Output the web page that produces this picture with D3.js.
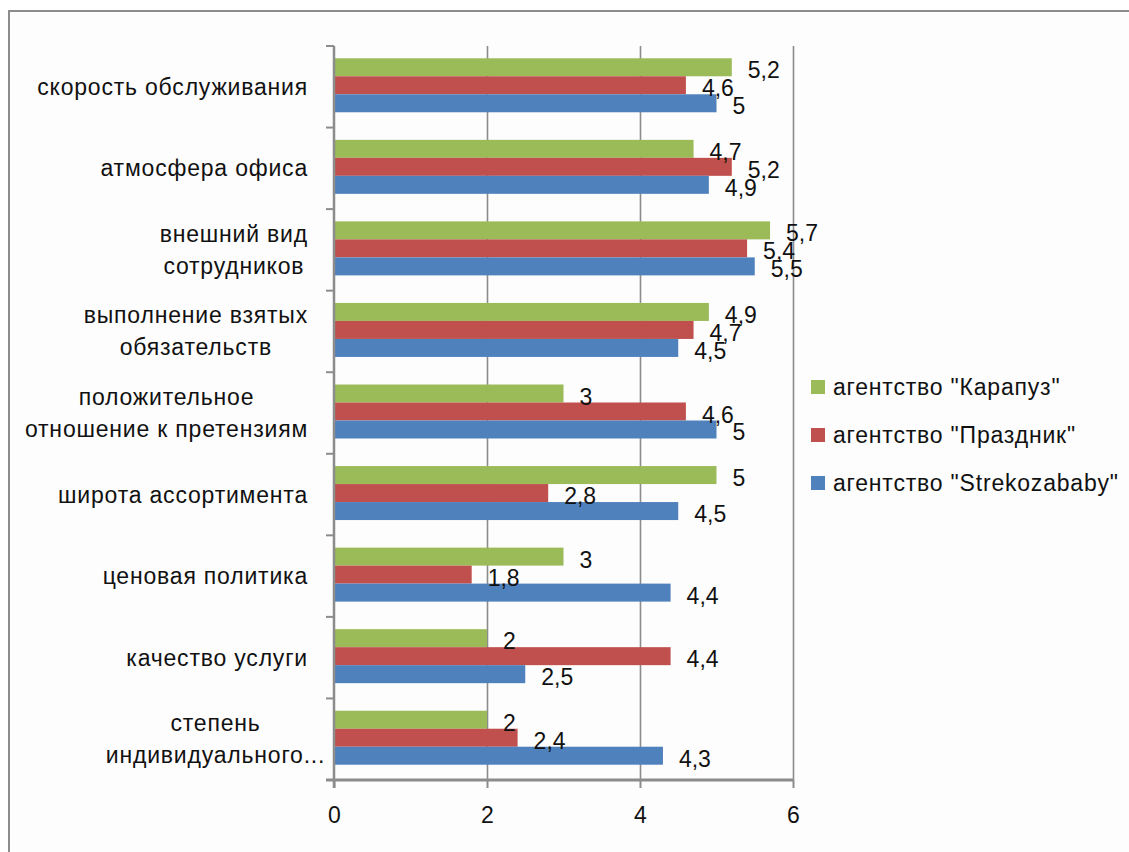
<!DOCTYPE html>
<html>
<head>
<meta charset="utf-8">
<script src="https://cdn.jsdelivr.net/npm/d3@7"></script>
<style>
    body { margin: 0; background: #fff; }
    svg text { font-family: "Liberation Sans", Arial, sans-serif; fill: #111; }
</style>
</head>
<body>
<svg id="chart" width="1129" height="852"></svg>
<script>
// categories, top to bottom (each may wrap into several lines)
var categories = [
    ["скорость обслуживания"],
    ["атмосфера офиса"],
    ["внешний вид", "сотрудников"],
    ["выполнение взятых", "обязательств"],
    ["положительное", "отношение к претензиям"],
    ["широта ассортимента"],
    ["ценовая политика"],
    ["качество услуги"],
    ["степень", "индивидуального..."]
];
var seriesNames = ['агентство "Карапуз"', 'агентство "Праздник"', 'агентство "Strekozababy"'];
var karapuz = [5.2, 4.7, 5.7, 4.9, 3, 5, 3, 2, 2];
var prazdnik = [4.6, 5.2, 5.4, 4.7, 4.6, 2.8, 1.8, 4.4, 2.4];
var strekoza = [5, 4.9, 5.5, 4.5, 5, 4.5, 4.4, 2.5, 4.3];
var xTicks = [0, 2, 4, 6];
var colors = ["#9bbb59", "#c0504d", "#4f81bd"];

var series = [karapuz, prazdnik, strekoza];

var svg = d3.select("#chart");
var plotLeft = 334, plotRight = 793, plotTop = 46, plotBottom = 780;
var fontSize = 23;

// outer frame
svg.append("rect")
    .attr("x", 9).attr("y", 11)
    .attr("width", 1140).attr("height", 860)
    .attr("fill", "#fdfdfd")
    .attr("stroke", "#8c8c8c").attr("stroke-width", 2);

var x = d3.scaleLinear().domain([0, 6]).range([plotLeft, plotRight]);
var y = d3.scaleBand().domain(d3.range(categories.length)).range([plotTop, plotBottom]);
var groupH = y.bandwidth() * 0.662;
var ySub = d3.scaleBand().domain(d3.range(series.length))
    .range([(y.bandwidth() - groupH) / 2 - 1.5, (y.bandwidth() + groupH) / 2 - 1.5]);

// gridlines
svg.append("g")
    .attr("transform", "translate(0," + plotBottom + ")")
    .call(d3.axisBottom(x).tickValues(xTicks.slice(1)).tickSize(-(plotBottom - plotTop)).tickFormat(""))
    .call(function (g) { g.select(".domain").remove(); })
    .selectAll("line").attr("stroke", "#8c8c8c").attr("stroke-width", 1.6);

// bars
var rows = [];
categories.forEach(function (c, i) {
    series.forEach(function (s, j) {
        rows.push({ cat: i, ser: j, value: s[i] });
    });
});

svg.append("g").selectAll("rect")
    .data(rows)
    .join("rect")
    .attr("x", x(0))
    .attr("y", function (d) { return y(d.cat) + ySub(d.ser); })
    .attr("width", function (d) { return x(d.value) - x(0); })
    .attr("height", ySub.bandwidth())
    .attr("fill", function (d) { return colors[d.ser]; });

// value labels
svg.append("g").selectAll("text")
    .data(rows)
    .join("text")
    .attr("x", function (d) { return x(d.value) + 16; })
    .attr("y", function (d) { return y(d.cat) + ySub(d.ser) + ySub.bandwidth() / 2 + 3; })
    .attr("dominant-baseline", "central")
    .attr("font-size", fontSize)
    .text(function (d) { return String(d.value).replace(".", ","); });

// bottom axis
var xAxis = svg.append("g")
    .attr("transform", "translate(0," + plotBottom + ")")
    .call(d3.axisBottom(x).tickValues(xTicks).tickFormat(d3.format("d"))
        .tickSize(8).tickPadding(19).tickSizeOuter(0));
xAxis.select(".domain").attr("d", "M" + (plotLeft - 8) + ",0H" + plotRight)
    .attr("stroke", "#8c8c8c").attr("stroke-width", 3);
xAxis.selectAll(".tick line").attr("stroke", "#8c8c8c").attr("stroke-width", 2);
xAxis.selectAll(".tick text").attr("font-size", fontSize).attr("fill", "#111")
    .attr("font-family", "Liberation Sans, Arial, sans-serif");

// left axis with ticks on category boundaries
var yAxis = svg.append("g");
yAxis.append("line")
    .attr("x1", plotLeft).attr("x2", plotLeft).attr("y1", plotTop).attr("y2", plotBottom + 8)
    .attr("stroke", "#8c8c8c").attr("stroke-width", 2.5);
yAxis.selectAll("line.tick")
    .data(d3.range(categories.length))
    .join("line")
    .attr("class", "tick")
    .attr("x1", plotLeft - 8).attr("x2", plotLeft)
    .attr("y1", function (i) { return y(i); })
    .attr("y2", function (i) { return y(i); })
    .attr("stroke", "#8c8c8c").attr("stroke-width", 2);

// category labels, multi-line centered, right edge near the axis
// (a trailing ellipsis is not counted, so it hangs over like in the original)
var lineH = 32;
categories.forEach(function (lines, i) {
    var g = svg.append("g");
    var cy = y(i) + y.bandwidth() / 2;
    var texts = g.selectAll("text")
        .data(lines)
        .join("text")
        .attr("font-size", fontSize)
        .attr("letter-spacing", 0.8)
        .attr("dominant-baseline", "central")
        .attr("y", function (d, k) { return cy + (k - (lines.length - 1) / 2) * lineH; })
        .text(function (d) { return d; });
    var widths = [];
    texts.each(function (d) {
        var w = this.getComputedTextLength();
        if (/\.\.\.$/.test(d)) w -= this.getSubStringLength(d.length - 3, 3) * 1.6;
        widths.push(w);
    });
    var maxW = d3.max(widths);
    var cx = plotLeft - 26 - maxW / 2;
    texts.attr("x", cx).attr("text-anchor", "middle");
});

// legend
var legend = svg.append("g").attr("transform", "translate(811,387)");
var items = legend.selectAll("g")
    .data(seriesNames)
    .join("g")
    .attr("transform", function (d, i) { return "translate(0," + i * 48 + ")"; });
items.append("rect")
    .attr("x", 0).attr("y", -7).attr("width", 14).attr("height", 14)
    .attr("fill", function (d, i) { return colors[i]; });
items.append("text")
    .attr("x", 22).attr("y", 0)
    .attr("dominant-baseline", "central")
    .attr("font-size", fontSize)
    .attr("letter-spacing", 0.8)
    .text(function (d) { return d; });
</script>
</body>
</html>
